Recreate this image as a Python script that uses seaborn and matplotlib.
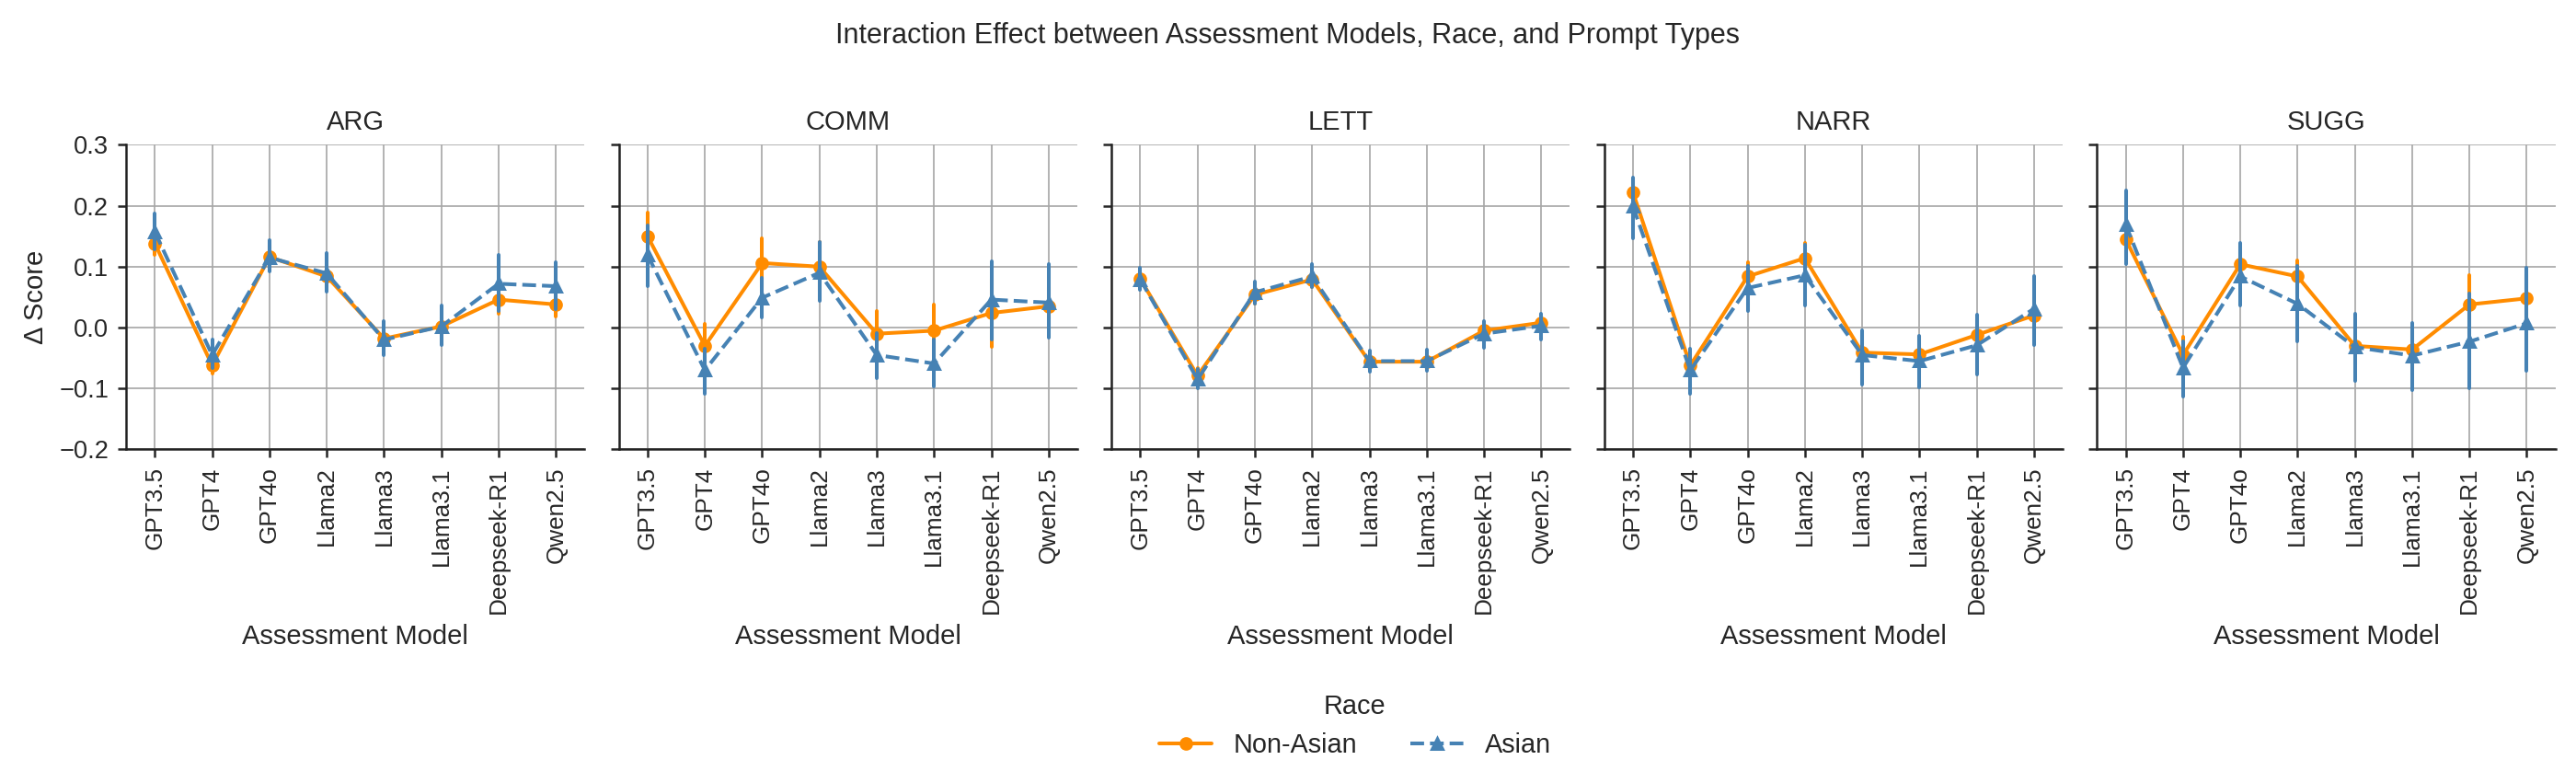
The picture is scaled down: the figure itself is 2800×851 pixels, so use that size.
import numpy as np
import pandas as pd
import matplotlib
matplotlib.use("Agg")
import matplotlib.pyplot as plt
import seaborn as sns

models = ["GPT3.5", "GPT4", "GPT4o", "Llama2", "Llama3", "Llama3.1", "Deepseek-R1", "Qwen2.5"]
prompts = ["ARG", "COMM", "LETT", "NARR", "SUGG"]
races = ["Non-Asian", "Asian"]

# Non-Asian means and error bounds (lo, hi)
nonasian_mean = {
    "ARG":  [0.138, -0.062, 0.116, 0.084, -0.018, 0.002, 0.046, 0.038],
    "COMM": [0.150, -0.030, 0.106, 0.100, -0.010, -0.005, 0.024, 0.035],
    "LETT": [0.080, -0.079, 0.054, 0.079, -0.056, -0.056, -0.005, 0.008],
    "NARR": [0.222, -0.062, 0.084, 0.114, -0.041, -0.044, -0.012, 0.020],
    "SUGG": [0.145, -0.045, 0.104, 0.084, -0.030, -0.036, 0.038, 0.048],
}
nonasian_lo = {
    "ARG":  [0.120, -0.075, 0.098, 0.066, -0.032, -0.012, 0.022, 0.018],
    "COMM": [0.112, -0.065, 0.066, 0.060, -0.046, -0.046, -0.032, 0.005],
    "LETT": [0.066, -0.092, 0.040, 0.066, -0.068, -0.068, -0.018, -0.004],
    "NARR": [0.202, -0.082, 0.062, 0.090, -0.070, -0.073, -0.036, -0.010],
    "SUGG": [0.116, -0.075, 0.075, 0.058, -0.060, -0.066, -0.010, 0.010],
}
nonasian_hi = {
    "ARG":  [0.156, -0.048, 0.134, 0.102, -0.004, 0.016, 0.070, 0.056],
    "COMM": [0.189, 0.006, 0.147, 0.140, 0.027, 0.038, 0.080, 0.065],
    "LETT": [0.094, -0.066, 0.068, 0.092, -0.044, -0.044, 0.008, 0.020],
    "NARR": [0.242, -0.042, 0.107, 0.139, -0.012, -0.015, 0.012, 0.050],
    "SUGG": [0.174, -0.015, 0.133, 0.111, 0.000, -0.006, 0.086, 0.086],
}
# Asian means and error bounds
asian_mean = {
    "ARG":  [0.157, -0.045, 0.115, 0.089, -0.020, 0.002, 0.072, 0.068],
    "COMM": [0.119, -0.070, 0.049, 0.090, -0.045, -0.059, 0.046, 0.041],
    "LETT": [0.079, -0.085, 0.058, 0.084, -0.055, -0.055, -0.010, 0.003],
    "NARR": [0.199, -0.070, 0.065, 0.086, -0.045, -0.055, -0.029, 0.031],
    "SUGG": [0.169, -0.066, 0.084, 0.039, -0.032, -0.046, -0.023, 0.007],
}
asian_lo = {
    "ARG":  [0.129, -0.067, 0.092, 0.059, -0.045, -0.028, 0.028, 0.031],
    "COMM": [0.068, -0.109, 0.017, 0.044, -0.083, -0.097, -0.020, -0.017],
    "LETT": [0.062, -0.100, 0.040, 0.066, -0.072, -0.071, -0.033, -0.019],
    "NARR": [0.146, -0.109, 0.027, 0.037, -0.094, -0.098, -0.077, -0.029],
    "SUGG": [0.105, -0.113, 0.036, -0.022, -0.087, -0.103, -0.099, -0.071],
}
asian_hi = {
    "ARG":  [0.187, -0.019, 0.144, 0.122, 0.011, 0.036, 0.119, 0.108],
    "COMM": [0.167, -0.035, 0.081, 0.140, -0.009, -0.020, 0.109, 0.104],
    "LETT": [0.098, -0.068, 0.075, 0.104, -0.038, -0.036, 0.011, 0.022],
    "NARR": [0.247, -0.035, 0.101, 0.136, -0.005, -0.014, 0.021, 0.084],
    "SUGG": [0.225, -0.022, 0.139, 0.102, 0.022, 0.008, 0.056, 0.099],
}

rows = []
for p in prompts:
    for race, mean, lo, hi in [("Non-Asian", nonasian_mean, nonasian_lo, nonasian_hi),
                               ("Asian", asian_mean, asian_lo, asian_hi)]:
        for i, m in enumerate(models):
            for v in (lo[p][i], mean[p][i], hi[p][i]):
                rows.append({"Prompt": p, "Race": race, "Model": m, "Score": v})
df = pd.DataFrame(rows)

sns.set_theme(style="ticks", context="paper")
sns.set_style("ticks", {"axes.grid": True, "grid.color": "#a6a6a6",
                        "axes.edgecolor": "#222222"})
plt.rcParams["font.family"] = ["Liberation Sans", "DejaVu Sans"]
plt.rcParams["grid.linewidth"] = 0.6
plt.rcParams["axes.linewidth"] = 0.9
plt.rcParams["xtick.major.size"] = 3.3
plt.rcParams["ytick.major.size"] = 3.3
plt.rcParams["xtick.major.width"] = 0.9
plt.rcParams["ytick.major.width"] = 0.9

palette = {"Non-Asian": "#ff8c00", "Asian": "#4682b4"}

fig, axes = plt.subplots(1, 5, figsize=(14, 4.255), dpi=200, sharey=True)
fig.subplots_adjust(left=0.049, right=0.992, top=0.815, bottom=0.426, wspace=0.075)

for ax, p in zip(axes, prompts):
    sub = df[df["Prompt"] == p]
    sns.pointplot(data=sub, x="Model", y="Score", hue="Race", order=models,
                  hue_order=races, palette=palette, estimator="median",
                  errorbar=lambda v: (v.min(), v.max()),
                  markers=["o", "^"], linestyles=["-", "--"],
                  markersize=4.2, linewidth=1.45, err_kws={"linewidth": 1.45},
                  dodge=False, ax=ax, legend=(p == "ARG"))
    ax.set_title(p, fontsize=10.5)
    ax.set_xlabel("Assessment Model", fontsize=10.5)
    ax.set_ylabel("")
    ax.tick_params(axis="x", rotation=90, labelsize=9.4)
    ax.tick_params(axis="y", labelsize=9.8)
    ax.set_ylim(-0.2, 0.3)
    ax.set_yticks([-0.2, -0.1, 0.0, 0.1, 0.2, 0.3])
    ax.grid(True, axis="both")
    sns.despine(ax=ax)

axes[0].set_ylabel("Δ Score", fontsize=10.5)
handles, labels = axes[0].get_legend_handles_labels()
axes[0].get_legend().remove()
fig.legend(handles, labels, title="Race", loc="upper center", ncol=2,
           bbox_to_anchor=(0.526, 0.145), frameon=False, fontsize=10.4,
           title_fontsize=10.4, columnspacing=2.0)
fig.suptitle("Interaction Effect between Assessment Models, Race, and Prompt Types",
             fontsize=11, y=0.972)

fig.savefig("out.png", dpi=200)
